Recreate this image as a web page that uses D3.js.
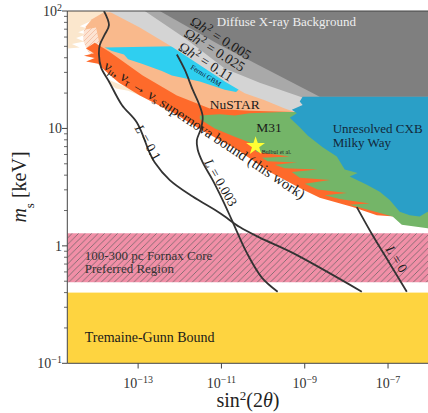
<!DOCTYPE html>
<html>
<head>
<meta charset="utf-8">
<script src="https://cdn.jsdelivr.net/npm/d3@7"></script>
<style>
  body { margin: 0; background: #fff; }
  text { font-family: "Liberation Serif", "DejaVu Serif", serif; }
</style>
</head>
<body>
<div id="vis"></div>
<script>
// every point is [log10 sin^2(2theta), log10 m_s/keV]

let beige = [[-14.70, 2.00], [-13.72, 2.00], [-14.16, 1.91], [-14.40, 1.87], [-14.20, 1.85], [-14.44, 1.82],
  [-14.25, 1.80], [-14.49, 1.77], [-14.30, 1.74], [-14.59, 1.72], [-14.40, 1.69], [-14.70, 1.68]]
let beigeLow = [[-13.68, 1.41], [-13.48, 1.38], [-13.20, 1.34], [-12.96, 1.28], [-13.24, 1.32], [-13.53, 1.34], [-13.72, 1.39]]
let peach = [[-14.25, 1.87], [-14.11, 1.93], [-13.82, 1.99], [-11.52, 2.00], [-9.12, 1.24], [-9.12, 1.09], [-10.32, 1.07],
  [-11.52, 1.09], [-12.19, 1.17], [-12.96, 1.30], [-13.46, 1.41], [-13.82, 1.51], [-14.08, 1.61], [-14.25, 1.70], [-14.30, 1.79]]
let oldSN = [[-14.30, 1.84], [-14.01, 1.86], [-13.92, 1.71], [-13.82, 1.57], [-14.04, 1.58], [-14.23, 1.67], [-14.32, 1.75]]
let fermi = [[-13.80, 1.69], [-12.12, 1.70], [-10.56, 1.34], [-10.65, 1.31], [-10.92, 1.33], [-11.52, 1.40], [-12.19, 1.45],
  [-12.43, 1.49], [-12.91, 1.55], [-13.24, 1.59], [-13.34, 1.63], [-13.63, 1.66]]
let supernova = [[-14.25, 1.68], [-14.04, 1.73], [-13.68, 1.65], [-12.89, 1.45], [-12.07, 1.28], [-11.28, 1.17], [-10.32, 1.15],
  [-9.24, 1.14], [-8.16, 0.90], [-6.72, 0.35], [-6.84, 0.25], [-7.27, 0.26], [-7.85, 0.33], [-8.64, 0.41], [-9.05, 0.48],
  [-9.84, 0.63], [-10.63, 0.82], [-11.45, 0.98], [-12.19, 1.14], [-12.96, 1.28], [-13.46, 1.39], [-13.82, 1.50],
  [-13.96, 1.55], [-14.25, 1.57], [-14.04, 1.60], [-14.30, 1.62], [-14.06, 1.64]]
let m31 = [[-11.52, 1.11], [-11.04, 1.12], [-10.68, 1.11], [-10.32, 1.13], [-9.53, 1.14], [-8.40, 1.14], [-6.00, 0.90],
  [-6.00, 0.14], [-6.05, 0.15], [-6.67, 0.18], [-6.89, 0.25], [-7.92, 0.35], [-7.44, 0.36], [-8.16, 0.40], [-8.52, 0.43],
  [-7.99, 0.45], [-8.69, 0.48], [-9.00, 0.53], [-8.40, 0.56], [-9.12, 0.58], [-9.31, 0.63], [-8.69, 0.65], [-9.48, 0.66],
  [-9.72, 0.69], [-9.19, 0.71], [-9.89, 0.72], [-10.03, 0.75], [-9.36, 0.76], [-10.15, 0.80], [-10.32, 0.88],
  [-10.68, 0.93], [-11.16, 1.00], [-11.52, 1.08]]
let omega011 = [[-13.72, 2.00], [-12.96, 1.86], [-12.16, 1.69], [-10.92, 1.40], [-10.44, 1.30], [-9.96, 1.24], [-9.48, 1.17],
  [-9.24, 1.14], [-8.40, 1.14], [-6.00, 1.14], [-6.00, 2.00]]
let omega0025 = [[-12.84, 2.00], [-11.88, 1.77], [-10.92, 1.51], [-10.08, 1.39], [-8.95, 1.25], [-8.40, 1.20], [-6.00, 1.20], [-6.00, 2.00]]
let xray = [[-12.48, 2.00], [-11.04, 1.71], [-8.64, 1.27], [-6.00, 1.27], [-6.00, 2.00]]
let cxb = [[-9.05, 1.27], [-6.00, 1.27], [-6.00, 0.26], [-6.05, 0.29], [-6.24, 0.25], [-6.48, 0.26], [-6.72, 0.29],
  [-6.96, 0.39], [-7.20, 0.46], [-7.51, 0.52], [-7.92, 0.59], [-7.73, 0.62], [-8.04, 0.65], [-8.23, 0.76], [-8.57, 0.84],
  [-8.93, 0.94], [-9.12, 1.01], [-9.36, 1.09], [-9.19, 1.13], [-9.31, 1.16], [-9.05, 1.20], [-9.12, 1.23]]

let lineL01 = [[-13.82, 2.00], [-13.70, 1.88], [-13.80, 1.80], [-13.92, 1.71], [-13.94, 1.63], [-13.89, 1.52], [-13.70, 1.40],
  [-13.39, 1.20], [-13.03, 1.05], [-12.72, 0.79], [-12.60, 0.71], [-12.24, 0.56], [-11.69, 0.42], [-11.04, 0.28],
  [-10.56, 0.16], [-10.08, 0.07], [-9.29, -0.06], [-7.63, -0.39]]
let lineL0003 = [[-12.07, 1.63], [-11.88, 1.50], [-11.69, 1.33], [-11.54, 1.21], [-11.45, 1.10], [-11.49, 1.00], [-11.59, 0.90],
  [-11.57, 0.82], [-11.45, 0.71], [-11.21, 0.56], [-10.97, 0.39], [-10.75, 0.22], [-10.39, -0.06], [-10.03, -0.27], [-9.65, -0.39]]
let lineL0 = [[-7.75, 0.33], [-7.37, 0.09], [-6.96, -0.15], [-6.55, -0.39]]

let fornaxBand = [0.49, 1.28]   // keV
let tremaineGunn = [0.1, 0.40]  // keV
let bulbul = [-10.18, 0.85]

let xTicks = [-13, -11, -9, -7]
let yTicks = [-1, 0, 1, 2]
let yTickLabels = ['10', '1', '10', '10']
let yTickSups = ['\u22121', '', '', '2']

let width = 428, height = 413
let svg = d3.select('#vis').append('svg')
  .attr('width', width)
  .attr('height', height)

let x = d3.scaleLog().domain([Math.pow(10, -14.7), 1e-6]).range([67.3, 429.7])
let y = d3.scaleLog().domain([0.1, 100]).range([363.3, 11])
let pt = d => [x(Math.pow(10, d[0])), y(Math.pow(10, d[1]))]

let defs = svg.append('defs')
defs.append('clipPath').attr('id', 'plot')
  .append('rect').attr('x', 67.3).attr('y', 11).attr('width', 363).attr('height', 352.3)

let hatch = defs.append('pattern').attr('id', 'hatch')
  .attr('patternUnits', 'userSpaceOnUse').attr('width', 6.5).attr('height', 6.5)
hatch.append('rect').attr('width', 6.5).attr('height', 6.5).attr('fill', '#f18fa7')
hatch.append('path').attr('d', 'M-1,1 l2,-2 M0,6.5 l6.5,-6.5 M5.5,7.5 l2,-2')
  .attr('stroke', '#5e5e5e').attr('stroke-width', 0.7)

let hatch2 = defs.append('pattern').attr('id', 'hatch2')
  .attr('patternUnits', 'userSpaceOnUse').attr('width', 5).attr('height', 5)
hatch2.append('rect').attr('width', 5).attr('height', 5).attr('fill', '#fce3d2')
hatch2.append('path').attr('d', 'M-1,1 l2,-2 M0,5 l5,-5 M4,6 l2,-2')
  .attr('stroke', '#f2b49a').attr('stroke-width', 0.7)

let g = svg.append('g').attr('clip-path', 'url(#plot)')

// horizontal bands
g.append('rect')
  .attr('x', 67.3).attr('width', 363)
  .attr('y', y(tremaineGunn[1])).attr('height', y(tremaineGunn[0]) - y(tremaineGunn[1]))
  .attr('fill', '#fed440')
g.append('rect')
  .attr('x', 67.3).attr('width', 363)
  .attr('y', y(fornaxBand[1])).attr('height', y(fornaxBand[0]) - y(fornaxBand[1]))
  .attr('fill', 'url(#hatch)')

let area = d3.line().curve(d3.curveLinearClosed)
let poly = (data, fill) => g.append('path').attr('d', area(data.map(pt))).attr('fill', fill)

poly(beige, '#fbe7cd')
poly(beigeLow, '#fbe7cd')
poly(peach, '#f9b98c')
poly(oldSN, 'url(#hatch2)')
poly(fermi, '#2fcff0')
poly(supernova, '#fe6a2b')
poly(m31, '#74b568')

let curve = d3.line().curve(d3.curveCatmullRom.alpha(0.5))
;[lineL01, lineL0003, lineL0].forEach(l => {
  g.append('path').attr('d', curve(l.map(pt)))
    .attr('fill', 'none').attr('stroke', '#333').attr('stroke-width', 1.8)
})

poly(omega011, '#d4d4d4')
poly(omega0025, '#a9a9a9')
poly(xray, '#7f7f7f')
poly(cxb, '#2a9fc7')

// star
g.append('path')
  .attr('d', d3.symbol(d3.symbolStar, 110)())
  .attr('transform', 'translate(' + pt(bulbul) + ')')
  .attr('fill', '#ffff33')

// labels
let label = (d, txt, opts) => {
  let p = pt(d)
  let size = opts.size || 13.5
  let t = svg.append('text')
    .attr('transform', 'translate(' + p + ') rotate(' + (opts.rot || 0) + ')')
    .attr('text-anchor', opts.anchor || 'start')
    .attr('font-size', size)
    .attr('fill', opts.color || '#1a1a1a')
  if (opts.dy) t.attr('dy', opts.dy)
  if (opts.len) t.attr('textLength', opts.len).attr('lengthAdjust', 'spacingAndGlyphs')
  txt.forEach(s => {
    let ts = t.append('tspan').text(s[0])
    if (s[1] === 'i') ts.attr('font-style', 'italic')
    if (s[1] === 'sup') ts.attr('baseline-shift', 'super').attr('font-size', size * 0.7)
    if (s[1] === 'sub') ts.attr('baseline-shift', '-20%').attr('font-size', size * 0.7)
  })
  return t
}

label([-11.11, 1.87], [['Diffuse X-ray Background']], {color: '#eeeeee', size: 13})
label([-11.01, 1.77], [['\u03a9'], ['h', 'i'], ['2', 'sup'], [' = 0.005']], {rot: 32, anchor: 'middle', dy: '0.35em', size: 14})
label([-11.16, 1.67], [['\u03a9'], ['h', 'i'], ['2', 'sup'], [' = 0.025']], {rot: 32, anchor: 'middle', dy: '0.35em', size: 14})
label([-11.37, 1.57], [['\u03a9'], ['h', 'i'], ['2', 'sup'], [' = 0.11']], {rot: 32, anchor: 'middle', dy: '0.35em', size: 14})
label([-11.37, 1.45], [['Fermi GBM']], {rot: 32, anchor: 'middle', dy: '0.35em', size: 7, color: '#113'})
label([-10.68, 1.21], [['NuSTAR']], {anchor: 'middle', dy: '0.35em'})
label([-9.86, 1.01], [['M31']], {anchor: 'middle', dy: '0.35em'})
label([-10.03, 0.78], [['Bulbul et al.']], {size: 6, color: '#222'})
label([-8.33, 0.96], [['Unresolved CXB']], {color: '#13283a', size: 13})
label([-8.33, 0.84], [['Milky Way']], {color: '#13283a', size: 13})
label([-11.40, 0.99], [['\u03bd'], ['\u03bc', 'sub'], [', \u03bd'], ['\u03c4', 'sub'], [' \u2192 \u03bd'], ['s', 'sub'],
  [' supernova bound (this work)']], {rot: 33.5, anchor: 'middle', dy: '0.35em', size: 14.5, len: 238})
label([-12.76, 0.88], [['L', 'i'], [' = 0.1']], {rot: 60, anchor: 'middle', dy: '0.35em'})
label([-11.01, 0.54], [['L', 'i'], [' = 0.003']], {rot: 60, anchor: 'middle', dy: '0.35em'})
label([-6.79, -0.11], [['L', 'i'], [' = 0']], {rot: 58, anchor: 'middle', dy: '0.35em'})
label([-14.28, -0.12], [['100-300 pc Fornax Core']], {color: '#333', size: 13})
label([-14.28, -0.235], [['Preferred Region']], {color: '#333', size: 13})
label([-14.28, -0.82], [['Tremaine-Gunn Bound']], {size: 14})

// axes
let ax = svg.append('g').attr('stroke', '#444').attr('fill', 'none')
ax.append('line').attr('x1', 67.3).attr('x2', 67.3).attr('y1', 11).attr('y2', 363.3)
ax.append('line').attr('x1', 67.3).attr('x2', 430).attr('y1', 363.3).attr('y2', 363.3)
ax.append('line').attr('x1', 67.3).attr('x2', 430).attr('y1', 11).attr('y2', 11)

xTicks.forEach(e => {
  let px = x(Math.pow(10, e))
  ax.append('line').attr('x1', px).attr('x2', px).attr('y1', 363.3).attr('y2', 368.5)
  let t = svg.append('text').attr('x', px).attr('y', 388).attr('text-anchor', 'middle')
    .attr('font-size', 14).attr('fill', '#333')
  t.append('tspan').text('10')
  t.append('tspan').attr('baseline-shift', 'super').attr('font-size', 10).text('\u2212' + (-e))
})

yTicks.forEach((e, i) => {
  let py = y(Math.pow(10, e))
  ax.append('line').attr('x1', 62).attr('x2', 67.3).attr('y1', py).attr('y2', py)
  let t = svg.append('text').attr('x', 62).attr('y', py).attr('dy', '0.35em').attr('text-anchor', 'end')
    .attr('font-size', 14).attr('fill', '#333')
  t.append('tspan').text(yTickLabels[i])
  if (yTickSups[i]) t.append('tspan').attr('baseline-shift', 'super').attr('font-size', 10).text(yTickSups[i])
  if (e < 2) {
    d3.range(2, 10).forEach(k => {
      let my = y(k * Math.pow(10, e))
      ax.append('line').attr('x1', 64).attr('x2', 67.3).attr('y1', my).attr('y2', my).attr('stroke-width', 0.8)
    })
  }
})

let xl = svg.append('text').attr('x', 248).attr('y', 407).attr('text-anchor', 'middle')
  .attr('font-size', 20).attr('fill', '#222')
xl.append('tspan').text('sin')
xl.append('tspan').attr('baseline-shift', 'super').attr('font-size', 13).text('2')
xl.append('tspan').text('(2')
xl.append('tspan').attr('font-style', 'italic').text('\u03b8')
xl.append('tspan').text(')')

let yl = svg.append('text').attr('transform', 'translate(26,187) rotate(-90)').attr('text-anchor', 'middle')
  .attr('font-size', 20).attr('fill', '#222')
yl.append('tspan').attr('font-style', 'italic').text('m')
yl.append('tspan').attr('baseline-shift', 'sub').attr('font-size', 13).text('s')
yl.append('tspan').text(' [keV]')
</script>
</body>
</html>
